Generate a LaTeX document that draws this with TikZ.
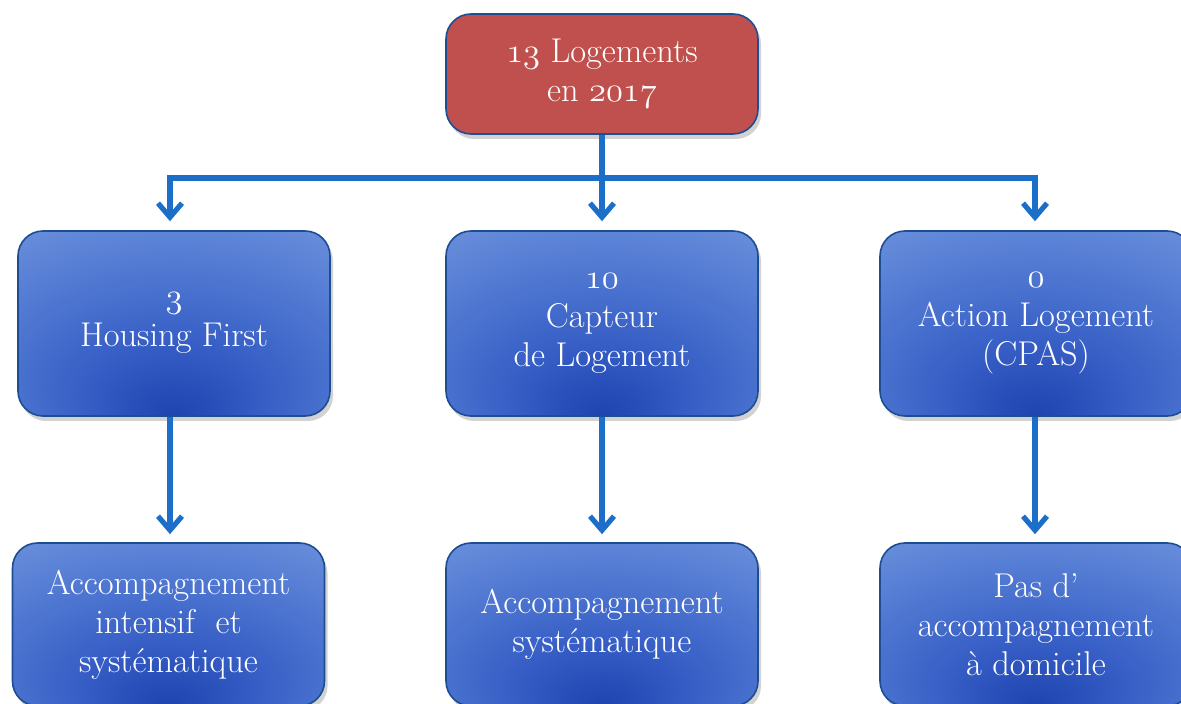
\documentclass[tikz,border=0pt]{standalone}
\usetikzlibrary{arrows.meta,shadows}
\definecolor{arrowblue}{RGB}{27,111,200}
\definecolor{borderblue}{RGB}{28,78,145}
\definecolor{boxred}{RGB}{192,80,77}
\definecolor{shA}{RGB}{30,68,176}
\definecolor{shB}{RGB}{55,95,198}
\definecolor{shC}{RGB}{85,125,212}
\definecolor{shD}{RGB}{115,150,222}
\definecolor{shE}{RGB}{162,186,236}
\pgfdeclareradialshading{boxshade}{\pgfpoint{0bp}{-25bp}}{color(0bp)=(shA); color(15bp)=(shB); color(32bp)=(shC); color(48bp)=(shD); color(58bp)=(shE); color(70bp)=(shE)}
\tikzset{
  basebox/.style={rounded corners=12.5pt, draw=borderblue, line width=0.8pt,
    minimum width=156pt, text=white, align=center,
    font=\fontsize{17.2}{19.5}\selectfont,
    drop shadow={opacity=0.35, shadow xshift=1.5pt, shadow yshift=-2.5pt}},
  bluebox/.style={basebox, shading=boxshade},
  redbox/.style={basebox, fill=boxred, minimum height=60pt},
  midbox/.style={bluebox, minimum height=92.5pt},
  lowbox/.style={bluebox, minimum height=81.5pt},
  conn/.style={draw=arrowblue, line width=2.6pt},
  arr/.style={conn, -{Straight Barb[length=7pt, width=12pt, line width=2.6pt]}},
}
\newcommand{\osn}[1]{{\usefont{OML}{cmm}{m}{it}#1}}
\begin{document}
\begin{tikzpicture}[x=0.5pt, y=-0.5pt]
\useasboundingbox (0,0) rectangle (1181,704);
\clip (0,0) rectangle (1181,704);
\fill[white] (0,0) rectangle (1181,704);
\node[redbox] (top) at (602,74) {\osn{13} Logements\\en \osn{2017}};
\node[midbox] (ml) at (174,323.5) {\osn{3}\\Housing First};
\node[midbox] (mc) at (602,323.5) {\osn{10}\\Capteur\\de Logement};
\node[midbox] (mr) at (1036,323.5) {\osn{0}\\Action Logement\\(CPAS)};
\node[lowbox] (bl) at (168.5,624.5) {Accompagnement\\intensif\ \ et\\systématique};
\node[lowbox] (bc) at (602,624.5) {Accompagnement\\systématique};
\node[lowbox] (br) at (1036,624.5) {Pas d’\\accompagnement\\à domicile};
\coordinate (hl) at (170,178);
\coordinate (hr) at (1035,178);
\draw[arr, shorten >=4.5pt] (hr) -- (hl) -- (hl |- ml.north);
\draw[arr, shorten >=4.5pt] (hl) -- (hr) -- (hr |- mr.north);
\draw[arr, shorten >=4.5pt] (top.south) -- (mc.north);
\draw[arr, shorten >=4pt] (ml.south -| hl) -- (bl.north -| hl);
\draw[arr, shorten >=4pt] (mc.south) -- (bc.north);
\draw[arr, shorten >=4pt] (mr.south -| hr) -- (br.north -| hr);
\end{tikzpicture}
\end{document}
